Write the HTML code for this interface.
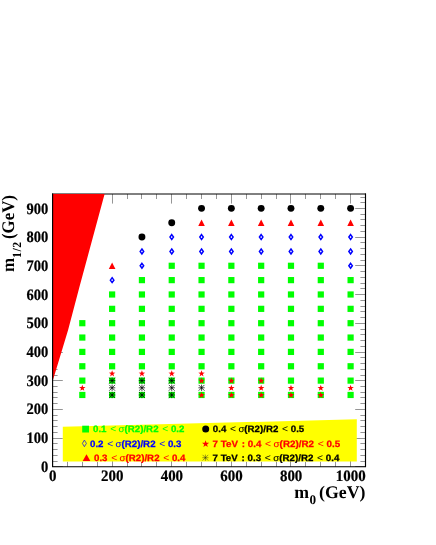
<!DOCTYPE html>
<html><head><meta charset="utf-8"><style>
html,body{margin:0;padding:0;background:#fff;}
svg{display:block;will-change:transform;text-rendering:geometricPrecision;font-family:"Liberation Sans",sans-serif;}
</style></head><body>
<svg width="436" height="545" viewBox="0 0 436 545">
<rect width="436" height="545" fill="#fff"/>
<path d="M52.50 466.75V457.15M52.50 194.0V203.6M67.50 466.75V461.75M67.50 194.0V199.0M82.50 466.75V461.75M82.50 194.0V199.0M97.50 466.75V461.75M97.50 194.0V199.0M112.50 466.75V457.15M112.50 194.0V203.6M127.50 466.75V461.75M127.50 194.0V199.0M141.50 466.75V461.75M141.50 194.0V199.0M156.50 466.75V461.75M156.50 194.0V199.0M171.50 466.75V457.15M171.50 194.0V203.6M186.50 466.75V461.75M186.50 194.0V199.0M201.50 466.75V461.75M201.50 194.0V199.0M216.50 466.75V461.75M216.50 194.0V199.0M231.50 466.75V457.15M231.50 194.0V203.6M246.50 466.75V461.75M246.50 194.0V199.0M261.50 466.75V461.75M261.50 194.0V199.0M276.50 466.75V461.75M276.50 194.0V199.0M290.50 466.75V457.15M290.50 194.0V203.6M305.50 466.75V461.75M305.50 194.0V199.0M320.50 466.75V461.75M320.50 194.0V199.0M335.50 466.75V461.75M335.50 194.0V199.0M350.50 466.75V457.15M350.50 194.0V203.6M365.50 466.75V461.75M365.50 194.0V199.0M52.5 466.50H62.8M365.5 466.50H355.2M52.5 461.50H57.6M365.5 461.50H360.4M52.5 455.50H57.6M365.5 455.50H360.4M52.5 449.50H57.6M365.5 449.50H360.4M52.5 443.50H57.6M365.5 443.50H360.4M52.5 438.50H62.8M365.5 438.50H355.2M52.5 432.50H57.6M365.5 432.50H360.4M52.5 426.50H57.6M365.5 426.50H360.4M52.5 420.50H57.6M365.5 420.50H360.4M52.5 415.50H57.6M365.5 415.50H360.4M52.5 409.50H62.8M365.5 409.50H355.2M52.5 403.50H57.6M365.5 403.50H360.4M52.5 397.50H57.6M365.5 397.50H360.4M52.5 392.50H57.6M365.5 392.50H360.4M52.5 386.50H57.6M365.5 386.50H360.4M52.5 380.50H62.8M365.5 380.50H355.2M52.5 375.50H57.6M365.5 375.50H360.4M52.5 369.50H57.6M365.5 369.50H360.4M52.5 363.50H57.6M365.5 363.50H360.4M52.5 357.50H57.6M365.5 357.50H360.4M52.5 352.50H62.8M365.5 352.50H355.2M52.5 346.50H57.6M365.5 346.50H360.4M52.5 340.50H57.6M365.5 340.50H360.4M52.5 334.50H57.6M365.5 334.50H360.4M52.5 329.50H57.6M365.5 329.50H360.4M52.5 323.50H62.8M365.5 323.50H355.2M52.5 317.50H57.6M365.5 317.50H360.4M52.5 311.50H57.6M365.5 311.50H360.4M52.5 306.50H57.6M365.5 306.50H360.4M52.5 300.50H57.6M365.5 300.50H360.4M52.5 294.50H62.8M365.5 294.50H355.2M52.5 288.50H57.6M365.5 288.50H360.4M52.5 283.50H57.6M365.5 283.50H360.4M52.5 277.50H57.6M365.5 277.50H360.4M52.5 271.50H57.6M365.5 271.50H360.4M52.5 265.50H62.8M365.5 265.50H355.2M52.5 260.50H57.6M365.5 260.50H360.4M52.5 254.50H57.6M365.5 254.50H360.4M52.5 248.50H57.6M365.5 248.50H360.4M52.5 242.50H57.6M365.5 242.50H360.4M52.5 237.50H62.8M365.5 237.50H355.2M52.5 231.50H57.6M365.5 231.50H360.4M52.5 225.50H57.6M365.5 225.50H360.4M52.5 219.50H57.6M365.5 219.50H360.4M52.5 214.50H57.6M365.5 214.50H360.4M52.5 208.50H62.8M365.5 208.50H355.2M52.5 202.50H57.6M365.5 202.50H360.4M52.5 197.50H57.6M365.5 197.50H360.4" stroke="#000" stroke-width="0.42" fill="none"/>
<path d="M52 194H366" stroke="#000" stroke-width="1" fill="none"/>
<path d="M52.6 381.2L68.1 330L79.3 287.5L104.6 194L52.6 194Z" fill="#ff0000"/>
<path d="M62.8 461.4L356.8 461.4L356.8 419.3L62.8 426.7Z" fill="#ffff00"/>
<rect x="79.21" y="391.87" width="6.2" height="6.2" fill="#00ff00"/>
<rect x="79.21" y="377.52" width="6.2" height="6.2" fill="#00ff00"/>
<rect x="79.21" y="363.16" width="6.2" height="6.2" fill="#00ff00"/>
<rect x="79.21" y="348.81" width="6.2" height="6.2" fill="#00ff00"/>
<rect x="79.21" y="334.45" width="6.2" height="6.2" fill="#00ff00"/>
<rect x="79.21" y="320.10" width="6.2" height="6.2" fill="#00ff00"/>
<rect x="109.02" y="391.87" width="6.2" height="6.2" fill="#00ff00"/>
<rect x="109.02" y="377.52" width="6.2" height="6.2" fill="#00ff00"/>
<rect x="109.02" y="363.16" width="6.2" height="6.2" fill="#00ff00"/>
<rect x="109.02" y="348.81" width="6.2" height="6.2" fill="#00ff00"/>
<rect x="109.02" y="334.45" width="6.2" height="6.2" fill="#00ff00"/>
<rect x="109.02" y="320.10" width="6.2" height="6.2" fill="#00ff00"/>
<rect x="109.02" y="305.74" width="6.2" height="6.2" fill="#00ff00"/>
<rect x="109.02" y="291.39" width="6.2" height="6.2" fill="#00ff00"/>
<rect x="138.83" y="391.87" width="6.2" height="6.2" fill="#00ff00"/>
<rect x="138.83" y="377.52" width="6.2" height="6.2" fill="#00ff00"/>
<rect x="138.83" y="363.16" width="6.2" height="6.2" fill="#00ff00"/>
<rect x="138.83" y="348.81" width="6.2" height="6.2" fill="#00ff00"/>
<rect x="138.83" y="334.45" width="6.2" height="6.2" fill="#00ff00"/>
<rect x="138.83" y="320.10" width="6.2" height="6.2" fill="#00ff00"/>
<rect x="138.83" y="305.74" width="6.2" height="6.2" fill="#00ff00"/>
<rect x="138.83" y="291.39" width="6.2" height="6.2" fill="#00ff00"/>
<rect x="138.83" y="277.03" width="6.2" height="6.2" fill="#00ff00"/>
<rect x="168.64" y="391.87" width="6.2" height="6.2" fill="#00ff00"/>
<rect x="168.64" y="377.52" width="6.2" height="6.2" fill="#00ff00"/>
<rect x="168.64" y="363.16" width="6.2" height="6.2" fill="#00ff00"/>
<rect x="168.64" y="348.81" width="6.2" height="6.2" fill="#00ff00"/>
<rect x="168.64" y="334.45" width="6.2" height="6.2" fill="#00ff00"/>
<rect x="168.64" y="320.10" width="6.2" height="6.2" fill="#00ff00"/>
<rect x="168.64" y="305.74" width="6.2" height="6.2" fill="#00ff00"/>
<rect x="168.64" y="291.39" width="6.2" height="6.2" fill="#00ff00"/>
<rect x="168.64" y="277.03" width="6.2" height="6.2" fill="#00ff00"/>
<rect x="168.64" y="262.68" width="6.2" height="6.2" fill="#00ff00"/>
<rect x="198.45" y="391.87" width="6.2" height="6.2" fill="#00ff00"/>
<rect x="198.45" y="377.52" width="6.2" height="6.2" fill="#00ff00"/>
<rect x="198.45" y="363.16" width="6.2" height="6.2" fill="#00ff00"/>
<rect x="198.45" y="348.81" width="6.2" height="6.2" fill="#00ff00"/>
<rect x="198.45" y="334.45" width="6.2" height="6.2" fill="#00ff00"/>
<rect x="198.45" y="320.10" width="6.2" height="6.2" fill="#00ff00"/>
<rect x="198.45" y="305.74" width="6.2" height="6.2" fill="#00ff00"/>
<rect x="198.45" y="291.39" width="6.2" height="6.2" fill="#00ff00"/>
<rect x="198.45" y="277.03" width="6.2" height="6.2" fill="#00ff00"/>
<rect x="198.45" y="262.68" width="6.2" height="6.2" fill="#00ff00"/>
<rect x="228.26" y="391.87" width="6.2" height="6.2" fill="#00ff00"/>
<rect x="228.26" y="377.52" width="6.2" height="6.2" fill="#00ff00"/>
<rect x="228.26" y="363.16" width="6.2" height="6.2" fill="#00ff00"/>
<rect x="228.26" y="348.81" width="6.2" height="6.2" fill="#00ff00"/>
<rect x="228.26" y="334.45" width="6.2" height="6.2" fill="#00ff00"/>
<rect x="228.26" y="320.10" width="6.2" height="6.2" fill="#00ff00"/>
<rect x="228.26" y="305.74" width="6.2" height="6.2" fill="#00ff00"/>
<rect x="228.26" y="291.39" width="6.2" height="6.2" fill="#00ff00"/>
<rect x="228.26" y="277.03" width="6.2" height="6.2" fill="#00ff00"/>
<rect x="228.26" y="262.68" width="6.2" height="6.2" fill="#00ff00"/>
<rect x="258.07" y="391.87" width="6.2" height="6.2" fill="#00ff00"/>
<rect x="258.07" y="377.52" width="6.2" height="6.2" fill="#00ff00"/>
<rect x="258.07" y="363.16" width="6.2" height="6.2" fill="#00ff00"/>
<rect x="258.07" y="348.81" width="6.2" height="6.2" fill="#00ff00"/>
<rect x="258.07" y="334.45" width="6.2" height="6.2" fill="#00ff00"/>
<rect x="258.07" y="320.10" width="6.2" height="6.2" fill="#00ff00"/>
<rect x="258.07" y="305.74" width="6.2" height="6.2" fill="#00ff00"/>
<rect x="258.07" y="291.39" width="6.2" height="6.2" fill="#00ff00"/>
<rect x="258.07" y="277.03" width="6.2" height="6.2" fill="#00ff00"/>
<rect x="258.07" y="262.68" width="6.2" height="6.2" fill="#00ff00"/>
<rect x="287.88" y="391.87" width="6.2" height="6.2" fill="#00ff00"/>
<rect x="287.88" y="377.52" width="6.2" height="6.2" fill="#00ff00"/>
<rect x="287.88" y="363.16" width="6.2" height="6.2" fill="#00ff00"/>
<rect x="287.88" y="348.81" width="6.2" height="6.2" fill="#00ff00"/>
<rect x="287.88" y="334.45" width="6.2" height="6.2" fill="#00ff00"/>
<rect x="287.88" y="320.10" width="6.2" height="6.2" fill="#00ff00"/>
<rect x="287.88" y="305.74" width="6.2" height="6.2" fill="#00ff00"/>
<rect x="287.88" y="291.39" width="6.2" height="6.2" fill="#00ff00"/>
<rect x="287.88" y="277.03" width="6.2" height="6.2" fill="#00ff00"/>
<rect x="287.88" y="262.68" width="6.2" height="6.2" fill="#00ff00"/>
<rect x="317.69" y="391.87" width="6.2" height="6.2" fill="#00ff00"/>
<rect x="317.69" y="377.52" width="6.2" height="6.2" fill="#00ff00"/>
<rect x="317.69" y="363.16" width="6.2" height="6.2" fill="#00ff00"/>
<rect x="317.69" y="348.81" width="6.2" height="6.2" fill="#00ff00"/>
<rect x="317.69" y="334.45" width="6.2" height="6.2" fill="#00ff00"/>
<rect x="317.69" y="320.10" width="6.2" height="6.2" fill="#00ff00"/>
<rect x="317.69" y="305.74" width="6.2" height="6.2" fill="#00ff00"/>
<rect x="317.69" y="291.39" width="6.2" height="6.2" fill="#00ff00"/>
<rect x="317.69" y="277.03" width="6.2" height="6.2" fill="#00ff00"/>
<rect x="317.69" y="262.68" width="6.2" height="6.2" fill="#00ff00"/>
<rect x="347.50" y="391.87" width="6.2" height="6.2" fill="#00ff00"/>
<rect x="347.50" y="377.52" width="6.2" height="6.2" fill="#00ff00"/>
<rect x="347.50" y="363.16" width="6.2" height="6.2" fill="#00ff00"/>
<rect x="347.50" y="348.81" width="6.2" height="6.2" fill="#00ff00"/>
<rect x="347.50" y="334.45" width="6.2" height="6.2" fill="#00ff00"/>
<rect x="347.50" y="320.10" width="6.2" height="6.2" fill="#00ff00"/>
<rect x="347.50" y="305.74" width="6.2" height="6.2" fill="#00ff00"/>
<rect x="347.50" y="291.39" width="6.2" height="6.2" fill="#00ff00"/>
<rect x="347.50" y="277.03" width="6.2" height="6.2" fill="#00ff00"/>
<path d="M112.12 277.68L113.87 280.13L112.12 282.58L110.37 280.13Z" fill="none" stroke="#0000ff" stroke-width="1.5"/>
<path d="M141.93 263.33L143.68 265.78L141.93 268.23L140.18 265.78Z" fill="none" stroke="#0000ff" stroke-width="1.5"/>
<path d="M141.93 248.97L143.68 251.42L141.93 253.87L140.18 251.42Z" fill="none" stroke="#0000ff" stroke-width="1.5"/>
<path d="M171.74 248.97L173.49 251.42L171.74 253.87L169.99 251.42Z" fill="none" stroke="#0000ff" stroke-width="1.5"/>
<path d="M171.74 234.62L173.49 237.07L171.74 239.52L169.99 237.07Z" fill="none" stroke="#0000ff" stroke-width="1.5"/>
<path d="M201.55 248.97L203.30 251.42L201.55 253.87L199.80 251.42Z" fill="none" stroke="#0000ff" stroke-width="1.5"/>
<path d="M201.55 234.62L203.30 237.07L201.55 239.52L199.80 237.07Z" fill="none" stroke="#0000ff" stroke-width="1.5"/>
<path d="M231.36 248.97L233.11 251.42L231.36 253.87L229.61 251.42Z" fill="none" stroke="#0000ff" stroke-width="1.5"/>
<path d="M231.36 234.62L233.11 237.07L231.36 239.52L229.61 237.07Z" fill="none" stroke="#0000ff" stroke-width="1.5"/>
<path d="M261.17 248.97L262.92 251.42L261.17 253.87L259.42 251.42Z" fill="none" stroke="#0000ff" stroke-width="1.5"/>
<path d="M261.17 234.62L262.92 237.07L261.17 239.52L259.42 237.07Z" fill="none" stroke="#0000ff" stroke-width="1.5"/>
<path d="M290.98 248.97L292.73 251.42L290.98 253.87L289.23 251.42Z" fill="none" stroke="#0000ff" stroke-width="1.5"/>
<path d="M290.98 234.62L292.73 237.07L290.98 239.52L289.23 237.07Z" fill="none" stroke="#0000ff" stroke-width="1.5"/>
<path d="M320.79 248.97L322.54 251.42L320.79 253.87L319.04 251.42Z" fill="none" stroke="#0000ff" stroke-width="1.5"/>
<path d="M320.79 234.62L322.54 237.07L320.79 239.52L319.04 237.07Z" fill="none" stroke="#0000ff" stroke-width="1.5"/>
<path d="M350.60 263.33L352.35 265.78L350.60 268.23L348.85 265.78Z" fill="none" stroke="#0000ff" stroke-width="1.5"/>
<path d="M350.60 248.97L352.35 251.42L350.60 253.87L348.85 251.42Z" fill="none" stroke="#0000ff" stroke-width="1.5"/>
<path d="M350.60 234.62L352.35 237.07L350.60 239.52L348.85 237.07Z" fill="none" stroke="#0000ff" stroke-width="1.5"/>
<path d="M108.82 268.98L115.42 268.98L112.12 262.58Z" fill="#ff0000"/>
<path d="M198.25 225.91L204.85 225.91L201.55 219.51Z" fill="#ff0000"/>
<path d="M228.06 225.91L234.66 225.91L231.36 219.51Z" fill="#ff0000"/>
<path d="M257.87 225.91L264.47 225.91L261.17 219.51Z" fill="#ff0000"/>
<path d="M287.68 225.91L294.28 225.91L290.98 219.51Z" fill="#ff0000"/>
<path d="M317.49 225.91L324.09 225.91L320.79 219.51Z" fill="#ff0000"/>
<path d="M347.30 225.91L353.90 225.91L350.60 219.51Z" fill="#ff0000"/>
<circle cx="141.93" cy="237.07" r="3.45" fill="#000"/>
<circle cx="171.74" cy="222.71" r="3.45" fill="#000"/>
<circle cx="201.55" cy="208.36" r="3.45" fill="#000"/>
<circle cx="231.36" cy="208.36" r="3.45" fill="#000"/>
<circle cx="261.17" cy="208.36" r="3.45" fill="#000"/>
<circle cx="290.98" cy="208.36" r="3.45" fill="#000"/>
<circle cx="320.79" cy="208.36" r="3.45" fill="#000"/>
<circle cx="350.60" cy="208.36" r="3.45" fill="#000"/>
<path d="M82.31 384.65L83.11 386.95L85.54 387.00L83.60 388.47L84.31 390.80L82.31 389.41L80.31 390.80L81.02 388.47L79.08 387.00L81.51 386.95Z" fill="#ff0000"/>
<path d="M112.12 370.29L112.92 372.59L115.35 372.64L113.41 374.11L114.12 376.44L112.12 375.05L110.12 376.44L110.83 374.11L108.89 372.64L111.32 372.59Z" fill="#ff0000"/>
<path d="M141.93 370.29L142.73 372.59L145.16 372.64L143.22 374.11L143.93 376.44L141.93 375.05L139.93 376.44L140.64 374.11L138.69 372.64L141.13 372.59Z" fill="#ff0000"/>
<path d="M171.74 370.29L172.54 372.59L174.97 372.64L173.03 374.11L173.74 376.44L171.74 375.05L169.74 376.44L170.44 374.11L168.50 372.64L170.94 372.59Z" fill="#ff0000"/>
<path d="M201.55 370.29L202.35 372.59L204.78 372.64L202.84 374.11L203.55 376.44L201.55 375.05L199.55 376.44L200.25 374.11L198.31 372.64L200.75 372.59Z" fill="#ff0000"/>
<path d="M201.55 377.47L202.35 379.77L204.78 379.82L202.84 381.29L203.55 383.62L201.55 382.23L199.55 383.62L200.25 381.29L198.31 379.82L200.75 379.77Z" fill="#ff0000"/>
<path d="M201.55 391.82L202.35 394.12L204.78 394.17L202.84 395.64L203.55 397.97L201.55 396.58L199.55 397.97L200.25 395.64L198.31 394.17L200.75 394.12Z" fill="#ff0000"/>
<path d="M231.36 377.47L232.16 379.77L234.59 379.82L232.65 381.29L233.36 383.62L231.36 382.23L229.36 383.62L230.06 381.29L228.12 379.82L230.56 379.77Z" fill="#ff0000"/>
<path d="M231.36 384.65L232.16 386.95L234.59 387.00L232.65 388.47L233.36 390.80L231.36 389.41L229.36 390.80L230.06 388.47L228.12 387.00L230.56 386.95Z" fill="#ff0000"/>
<path d="M231.36 391.82L232.16 394.12L234.59 394.17L232.65 395.64L233.36 397.97L231.36 396.58L229.36 397.97L230.06 395.64L228.12 394.17L230.56 394.12Z" fill="#ff0000"/>
<path d="M261.17 377.47L261.97 379.77L264.40 379.82L262.46 381.29L263.17 383.62L261.17 382.23L259.17 383.62L259.87 381.29L257.93 379.82L260.37 379.77Z" fill="#ff0000"/>
<path d="M261.17 384.65L261.97 386.95L264.40 387.00L262.46 388.47L263.17 390.80L261.17 389.41L259.17 390.80L259.87 388.47L257.93 387.00L260.37 386.95Z" fill="#ff0000"/>
<path d="M261.17 391.82L261.97 394.12L264.40 394.17L262.46 395.64L263.17 397.97L261.17 396.58L259.17 397.97L259.87 395.64L257.93 394.17L260.37 394.12Z" fill="#ff0000"/>
<path d="M290.98 384.65L291.78 386.95L294.21 387.00L292.27 388.47L292.97 390.80L290.98 389.41L288.98 390.80L289.68 388.47L287.74 387.00L290.18 386.95Z" fill="#ff0000"/>
<path d="M290.98 391.82L291.78 394.12L294.21 394.17L292.27 395.64L292.97 397.97L290.98 396.58L288.98 397.97L289.68 395.64L287.74 394.17L290.18 394.12Z" fill="#ff0000"/>
<path d="M320.79 384.65L321.59 386.95L324.02 387.00L322.08 388.47L322.78 390.80L320.79 389.41L318.79 390.80L319.49 388.47L317.55 387.00L319.99 386.95Z" fill="#ff0000"/>
<path d="M320.79 391.82L321.59 394.12L324.02 394.17L322.08 395.64L322.78 397.97L320.79 396.58L318.79 397.97L319.49 395.64L317.55 394.17L319.99 394.12Z" fill="#ff0000"/>
<path d="M350.60 384.65L351.39 386.95L353.83 387.00L351.89 388.47L352.59 390.80L350.60 389.41L348.60 390.80L349.30 388.47L347.36 387.00L349.80 386.95Z" fill="#ff0000"/>
<path d="M108.97 380.62H115.27M112.12 377.47V383.77M109.22 377.72L115.02 383.52M109.22 383.52L115.02 377.72" stroke="#000" stroke-width="0.72" fill="none"/>
<path d="M108.97 387.80H115.27M112.12 384.65V390.95M109.22 384.90L115.02 390.69M109.22 390.69L115.02 384.90" stroke="#000" stroke-width="0.72" fill="none"/>
<path d="M108.97 394.97H115.27M112.12 391.82V398.12M109.22 392.08L115.02 397.87M109.22 397.87L115.02 392.08" stroke="#000" stroke-width="0.72" fill="none"/>
<path d="M138.78 380.62H145.08M141.93 377.47V383.77M139.03 377.72L144.83 383.52M139.03 383.52L144.83 377.72" stroke="#000" stroke-width="0.72" fill="none"/>
<path d="M138.78 387.80H145.08M141.93 384.65V390.95M139.03 384.90L144.83 390.69M139.03 390.69L144.83 384.90" stroke="#000" stroke-width="0.72" fill="none"/>
<path d="M138.78 394.97H145.08M141.93 391.82V398.12M139.03 392.08L144.83 397.87M139.03 397.87L144.83 392.08" stroke="#000" stroke-width="0.72" fill="none"/>
<path d="M168.59 380.62H174.89M171.74 377.47V383.77M168.84 377.72L174.64 383.52M168.84 383.52L174.64 377.72" stroke="#000" stroke-width="0.72" fill="none"/>
<path d="M168.59 387.80H174.89M171.74 384.65V390.95M168.84 384.90L174.64 390.69M168.84 390.69L174.64 384.90" stroke="#000" stroke-width="0.72" fill="none"/>
<path d="M168.59 394.97H174.89M171.74 391.82V398.12M168.84 392.08L174.64 397.87M168.84 397.87L174.64 392.08" stroke="#000" stroke-width="0.72" fill="none"/>
<path d="M198.40 387.80H204.70M201.55 384.65V390.95M198.65 384.90L204.45 390.69M198.65 390.69L204.45 384.90" stroke="#000" stroke-width="0.72" fill="none"/>
<path d="M52.6 193.5V466.75H365.5V193.5" fill="none" stroke="#000" stroke-width="1.15"/>
<g font-family="Liberation Serif" font-weight="bold" font-size="15.9px" fill="#000" stroke="#000" stroke-width="0.22"><text transform="translate(52.65,480.7) scale(0.94,1)" text-anchor="middle">0</text><text transform="translate(112.27,480.7) scale(0.94,1)" text-anchor="middle">200</text><text transform="translate(171.89,480.7) scale(0.94,1)" text-anchor="middle">400</text><text transform="translate(231.51,480.7) scale(0.94,1)" text-anchor="middle">600</text><text transform="translate(291.13,480.7) scale(0.94,1)" text-anchor="middle">800</text><text transform="translate(350.75,480.7) scale(0.94,1)" text-anchor="middle">1000</text><text transform="translate(48.4,471.90) scale(0.915,1)" text-anchor="end">0</text><text transform="translate(48.4,443.19) scale(0.915,1)" text-anchor="end">100</text><text transform="translate(48.4,414.48) scale(0.915,1)" text-anchor="end">200</text><text transform="translate(48.4,385.77) scale(0.915,1)" text-anchor="end">300</text><text transform="translate(48.4,357.06) scale(0.915,1)" text-anchor="end">400</text><text transform="translate(48.4,328.35) scale(0.915,1)" text-anchor="end">500</text><text transform="translate(48.4,299.64) scale(0.915,1)" text-anchor="end">600</text><text transform="translate(48.4,270.93) scale(0.915,1)" text-anchor="end">700</text><text transform="translate(48.4,242.22) scale(0.915,1)" text-anchor="end">800</text><text transform="translate(48.4,213.51) scale(0.915,1)" text-anchor="end">900</text></g>
<text x="365.5" y="497.6" text-anchor="end" font-family="Liberation Serif" font-weight="bold" font-size="17.8px">m<tspan font-size="13.2px" dy="6.5" dx="0.4">0</tspan><tspan dy="-6.5" dx="-1.4"> (GeV)</tspan></text>
<text transform="translate(14.1,195) rotate(-90) scale(0.95,1)" text-anchor="end" font-family="Liberation Serif" font-weight="bold" font-size="17.8px">m<tspan font-size="12.4px" dy="7.1" letter-spacing="0.6">1/2</tspan><tspan dy="-7.1" dx="-2.2"> (GeV)</tspan></text>
<g font-family="Liberation Sans" font-weight="bold" font-size="9.2px"><rect x="82.20" y="425.70" width="6.8" height="6.8" fill="#00ff00"/><text transform="translate(93.0,432.3) scale(1.056,1)" fill="#00ff00" stroke="#00ff00" stroke-width="0.25">0.1 <tspan font-weight="normal" stroke="none" font-size="9.8px" dx="0.9">&lt;</tspan> <tspan font-weight="normal" stroke-width="0.12" dx="-0.3">σ</tspan>(R2)/R2 <tspan font-weight="normal" stroke="none" font-size="9.8px" dx="0.9">&lt;</tspan> 0.2</text><path d="M84.40 440.10L86.40 443.40L84.40 446.70L82.40 443.40Z" fill="none" stroke="#0000ff" stroke-width="0.7"/><text transform="translate(90.0,446.6) scale(1.056,1)" fill="#0000ff" stroke="#0000ff" stroke-width="0.25">0.2 <tspan font-weight="normal" stroke="none" font-size="9.8px" dx="0.9">&lt;</tspan> <tspan font-weight="normal" stroke-width="0.12" dx="-0.3">σ</tspan>(R2)/R2 <tspan font-weight="normal" stroke="none" font-size="9.8px" dx="0.9">&lt;</tspan> 0.3</text><path d="M82.70 461.10L90.30 461.10L86.50 454.20Z" fill="#ff0000"/><text transform="translate(94.0,461.0) scale(1.056,1)" fill="#ff0000" stroke="#ff0000" stroke-width="0.25">0.3 <tspan font-weight="normal" stroke="none" font-size="9.8px" dx="0.9">&lt;</tspan> <tspan font-weight="normal" stroke-width="0.12" dx="-0.3">σ</tspan>(R2)/R2 <tspan font-weight="normal" stroke="none" font-size="9.8px" dx="0.9">&lt;</tspan> 0.4</text><circle cx="205.70" cy="429.00" r="3.5" fill="#000"/><text transform="translate(212.8,432.0) scale(1.056,1)" fill="#000" stroke="#000" stroke-width="0.25">0.4 <tspan font-weight="normal" stroke="none" font-size="9.8px" dx="0.9">&lt;</tspan> <tspan font-weight="normal" stroke-width="0.12" dx="-0.3">σ</tspan>(R2)/R2 <tspan font-weight="normal" stroke="none" font-size="9.8px" dx="0.9">&lt;</tspan> 0.5</text><path d="M205.60 440.20L206.48 442.74L209.17 442.79L207.03 444.41L207.80 446.98L205.60 445.45L203.40 446.98L204.17 444.41L202.03 442.79L204.72 442.74Z" fill="#ff0000"/><text transform="translate(212.5,446.9) scale(1.067,1)" fill="#ff0000" stroke="#ff0000" stroke-width="0.25">7 TeV<tspan dx="1.0"> : </tspan>0.4 <tspan font-weight="normal" stroke="none" font-size="9.8px" dx="0.9">&lt;</tspan> <tspan font-weight="normal" stroke-width="0.12" dx="-0.3">σ</tspan>(R2)/R2 <tspan font-weight="normal" stroke="none" font-size="9.8px" dx="0.9">&lt;</tspan> 0.5</text><path d="M202.30 457.70H208.50M205.40 454.60V460.80M202.55 454.85L208.25 460.55M202.55 460.55L208.25 454.85" stroke="#222" stroke-width="0.45" fill="none"/><text transform="translate(212.5,461.1) scale(1.061,1)" fill="#000" stroke="#000" stroke-width="0.25">7 TeV<tspan dx="1.0"> : </tspan>0.3 <tspan font-weight="normal" stroke="none" font-size="9.8px" dx="0.9">&lt;</tspan> <tspan font-weight="normal" stroke-width="0.12" dx="-0.3">σ</tspan>(R2)/R2 <tspan font-weight="normal" stroke="none" font-size="9.8px" dx="0.9">&lt;</tspan> 0.4</text></g>
</svg>
</body></html>
